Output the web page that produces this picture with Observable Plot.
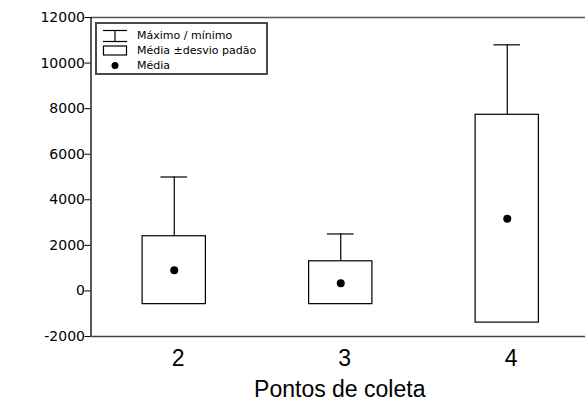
<!DOCTYPE html>
<html>
<head>
<meta charset="utf-8">
<script src="https://cdn.jsdelivr.net/npm/d3@7"></script>
<script src="https://cdn.jsdelivr.net/npm/@observablehq/plot@0.6"></script>
<style>
  html, body { margin: 0; padding: 0; background: #fff; }
  #wrap { position: relative; width: 585px; height: 408px; overflow: hidden; }
  #legend {
    position: absolute; left: 95px; top: 22px; width: 173px; height: 53px;
    box-sizing: border-box; border: 2px solid #4a4a4a; background: #fff;
    font-family: "DejaVu Sans", sans-serif; font-size: 11px; color: #000;
  }
  #legend .row { position: absolute; left: 0; height: 15px; width: 100%; }
  #legend .row svg { position: absolute; left: 5px; top: 0; }
  #legend .row span.t { position: absolute; left: 40px; top: 0; line-height: 15px; white-space: nowrap; }
</style>
</head>
<body>
<div id="wrap"></div>
<script>
// Data
const points = [2, 3, 4];                 // Pontos de coleta
const means  = [910, 340, 3170];          // Média
const lowerSd = [-580, -580, -1390];      // Média - desvio padrão
const upperSd = [2400, 1300, 7730];       // Média + desvio padrão
const maxima = [5000, 2500, 10800];       // Máximo
const yTicks = [-2000, 0, 2000, 4000, 6000, 8000, 10000, 12000];
const xLabel = "Pontos de coleta";
const legendLabels = ["Máximo / mínimo", "Média ±desvio padão", "Média"];

const data = points.map((p, i) => ({
  p, mean: means[i], lo: lowerSd[i], hi: upperSd[i], max: maxima[i]
}));

const boxHalf = 0.19;
const capHalf = 0.08;

const chart = Plot.plot({
  width: 585,
  height: 408,
  marginLeft: 90.5,
  marginRight: -5,
  marginTop: 17,
  marginBottom: 72,
  style: { fontFamily: "DejaVu Sans, sans-serif", color: "#000", background: "transparent" },
  x: { type: "linear", domain: [1.5, 4.5], axis: null },
  y: { domain: [-2000, 12000], axis: null },
  marks: [
    // top and bottom frame lines
    Plot.ruleY([12000], { stroke: "#555", strokeWidth: 1.5 }),
    Plot.ruleY([-2000], { stroke: "#444", strokeWidth: 1.5 }),
    // whiskers
    Plot.ruleX(data, { x: "p", y1: "hi", y2: "max", stroke: "#000", strokeWidth: 1.2 }),
    Plot.ruleY(data, { y: "max", x1: d => d.p - capHalf, x2: d => d.p + capHalf, stroke: "#000", strokeWidth: 1.2 }),
    // boxes mean ± sd
    Plot.rect(data, { x1: d => d.p - boxHalf, x2: d => d.p + boxHalf, y1: "lo", y2: "hi", fill: "#fff", stroke: "#000", strokeWidth: 1.2 }),
    // mean dots
    Plot.dot(data, { x: "p", y: "mean", r: 4, fill: "#000", stroke: "none" }),
    // y axis
    Plot.ruleX([1.5], { stroke: "#000", strokeWidth: 1.3 }),
    Plot.axisY(yTicks, { ticks: yTicks, tickSize: 6, tickPadding: 0, fontSize: 14, tickFormat: d => String(d), label: null, stroke: "#000" }),
    // x tick labels
    Plot.text(points, { x: d => d, frameAnchor: "bottom", dx: 4, dy: 22, lineAnchor: "middle", text: d => String(d), fontSize: 23, fontFamily: "Liberation Sans, Arial, sans-serif", fill: "#000" }),
    // x axis title
    Plot.text([xLabel], { frameAnchor: "bottom", dx: -1, dy: 53, lineAnchor: "middle", text: d => d, fontSize: 23, fontFamily: "Liberation Sans, Arial, sans-serif", fill: "#000" })
  ]
});

const wrap = document.getElementById("wrap");
wrap.appendChild(chart);

// Legend overlay
const legend = document.createElement("div");
legend.id = "legend";
legend.innerHTML = `
  <div class="row" style="top:4px">
    <svg width="26" height="15"><line x1="1" y1="2.5" x2="25" y2="2.5" stroke="#000" stroke-width="1.2"/><line x1="13" y1="2.5" x2="13" y2="13.5" stroke="#000" stroke-width="1.2"/><line x1="1" y1="13.5" x2="25" y2="13.5" stroke="#000" stroke-width="1.2"/></svg>
    <span class="t">${legendLabels[0]}</span>
  </div>
  <div class="row" style="top:19px">
    <svg width="26" height="15"><rect x="1.5" y="3" width="23" height="9" fill="#fff" stroke="#000" stroke-width="1.2"/></svg>
    <span class="t">${legendLabels[1]}</span>
  </div>
  <div class="row" style="top:34px">
    <svg width="26" height="15"><circle cx="13" cy="7.5" r="3.5" fill="#000"/></svg>
    <span class="t">${legendLabels[2]}</span>
  </div>`;
wrap.appendChild(legend);
</script>
</body>
</html>
